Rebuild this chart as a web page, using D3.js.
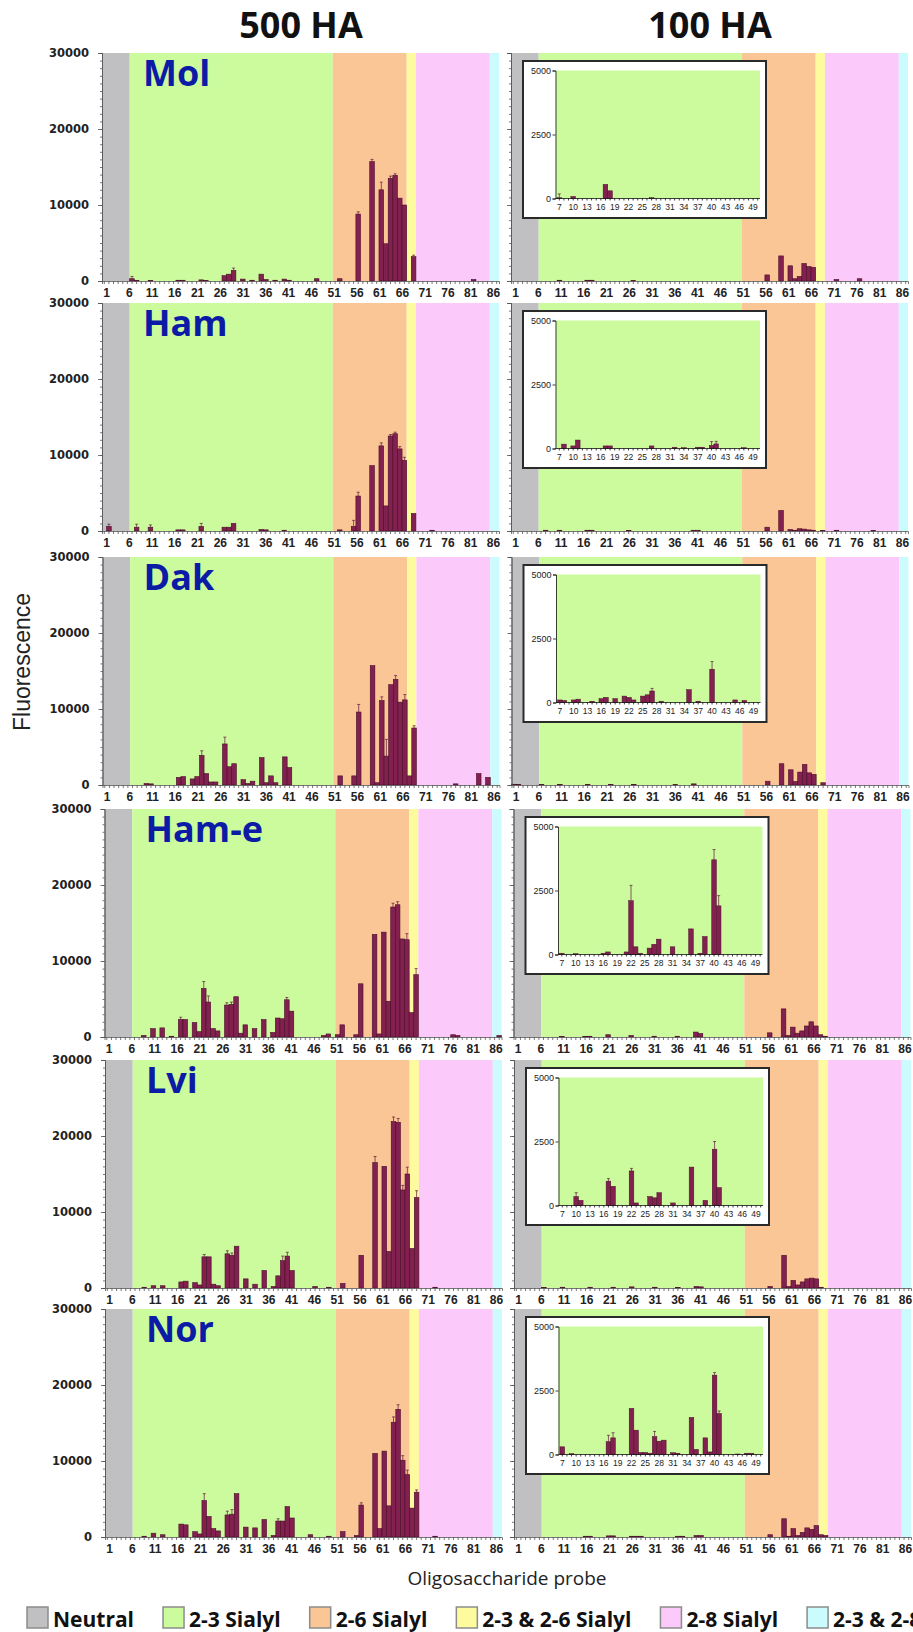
<!DOCTYPE html>
<html>
<head>
<meta charset="utf-8">
<style>
  body { margin: 0; background: #fff; }
  svg { display: block; }
  .axis path, .axis line { stroke: #555; stroke-width: 0.8; }
  .inset .axis path, .inset .axis line { stroke: #111; }
</style>
</head>
<body>
<svg width="913" height="1632"></svg>
<script src="https://d3js.org/d3.v7.min.js"></script>
<script>

var probes = d3.range(1, 87);
var insetProbes = d3.range(7, 51);
var xLabels = d3.range(1, 87, 5);
var insetLabels = d3.range(7, 50, 3);

var strains = ["Mol", "Ham", "Dak", "Ham-e", "Lvi", "Nor"];
var doses = ["500 HA", "100 HA"];

var groupNames = ["Neutral", "2-3 Sialyl", "2-6 Sialyl", "2-3 & 2-6 Sialyl", "2-8 Sialyl", "2-3 & 2-8 Sialyl"];
var groupFirst = [1, 7, 51, 67, 69, 85];
var groupLast = [6, 50, 66, 68, 84, 86];
var groupColor = ["#c0c0c2", "#cbfb9c", "#fbc695", "#fdfb9e", "#fcc9fb", "#cbfbfc"];

// probes 1-86
var mol500 = [
  0, 0, 0, 0, 0, 0, 300, 50, 0, 0,
  50, 0, 0, 0, 0, 0, 100, 100, 0, 0,
  0, 150, 50, 0, 0, 0, 700, 900, 1400, 0,
  250, 0, 100, 0, 900, 200, 0, 100, 0, 250,
  100, 0, 0, 0, 0, 0, 300, 0, 0, 0,
  0, 300, 0, 0, 0, 8800, 0, 0, 15700, 0,
  12000, 4900, 13500, 13900, 10900, 10000, 0, 3200, 0, 0,
  0, 0, 0, 0, 0, 0, 0, 0, 0, 0,
  200, 0, 0, 0, 0, 0
];
var mol100 = [
  0, 0, 0, 0, 0, 0, 0, 0, 0, 0,
  100, 0, 0, 0, 0, 0, 100, 100, 0, 0,
  0, 0, 0, 0, 0, 0, 50, 0, 0, 0,
  0, 0, 0, 0, 0, 0, 0, 0, 0, 0,
  0, 0, 0, 0, 0, 0, 0, 0, 0, 0,
  0, 0, 0, 0, 0, 800, 0, 0, 3300, 0,
  2000, 300, 600, 2300, 1900, 1800, 0, 0, 0, 0,
  200, 0, 0, 0, 0, 300, 0, 0, 0, 0,
  0, 0, 0, 0, 0, 0
];
var ham500 = [
  0, 600, 0, 0, 0, 0, 0, 500, 0, 0,
  500, 0, 0, 0, 0, 0, 150, 150, 0, 0,
  0, 600, 0, 0, 0, 0, 500, 500, 1000, 0,
  0, 0, 0, 0, 200, 150, 0, 0, 0, 100,
  0, 0, 0, 0, 0, 0, 0, 0, 0, 0,
  0, 150, 0, 0, 600, 4600, 0, 0, 8600, 0,
  11200, 3300, 12500, 12800, 10800, 9300, 0, 2300, 0, 0,
  0, 100, 0, 0, 0, 0, 0, 0, 0, 0,
  0, 0, 0, 0, 0, 0
];
var ham100 = [
  0, 0, 0, 0, 0, 0, 0, 100, 0, 0,
  100, 0, 0, 0, 0, 0, 100, 100, 0, 0,
  0, 0, 0, 0, 0, 80, 0, 0, 0, 0,
  0, 0, 0, 0, 0, 0, 0, 0, 0, 100,
  100, 0, 0, 0, 0, 0, 0, 0, 0, 0,
  0, 0, 0, 0, 0, 500, 0, 0, 2700, 0,
  200, 100, 300, 250, 150, 100, 0, 80, 0, 0,
  100, 0, 0, 0, 0, 0, 0, 0, 80, 0,
  0, 0, 0, 0, 0, 0
];
var dak500 = [
  0, 0, 0, 0, 0, 0, 0, 0, 0, 200,
  150, 0, 0, 0, 0, 0, 1000, 1100, 0, 800,
  1100, 3900, 1500, 400, 400, 0, 5400, 2400, 2800, 0,
  700, 200, 500, 0, 3600, 300, 1200, 300, 0, 3700,
  2300, 0, 0, 0, 0, 0, 0, 0, 0, 0,
  0, 1200, 0, 0, 1200, 9600, 0, 0, 15700, 300,
  11100, 3800, 13200, 13900, 10900, 11200, 1200, 7500, 0, 0,
  0, 0, 0, 0, 0, 0, 150, 0, 0, 0,
  0, 1500, 0, 1000, 0, 0
];
var dak100 = [
  100, 50, 0, 0, 0, 0, 50, 0, 0, 0,
  50, 0, 0, 0, 0, 0, 80, 0, 0, 0,
  0, 80, 0, 0, 0, 0, 80, 0, 0, 0,
  0, 0, 0, 0, 0, 50, 0, 0, 0, 150,
  0, 0, 0, 0, 0, 0, 0, 0, 0, 0,
  0, 0, 0, 0, 0, 500, 0, 0, 2800, 0,
  2000, 450, 1700, 2700, 1600, 1400, 0, 300, 0, 0,
  0, 0, 0, 0, 0, 0, 0, 0, 0, 0,
  0, 0, 0, 0, 0, 0
];
var hame500 = [
  0, 0, 0, 0, 0, 0, 0, 0, 200, 0,
  1100, 0, 1200, 0, 100, 0, 2300, 2300, 0, 1900,
  700, 6400, 4600, 1100, 800, 0, 4200, 4300, 5300, 500,
  1600, 0, 1100, 0, 2300, 0, 600, 2500, 2400, 4900,
  3400, 0, 0, 0, 0, 0, 0, 200, 400, 0,
  300, 1600, 0, 0, 300, 7000, 0, 0, 13500, 400,
  13800, 4700, 17100, 17400, 12900, 12800, 3200, 8200, 0, 0,
  0, 0, 0, 0, 0, 300, 200, 0, 0, 0,
  0, 0, 0, 0, 0, 200
];
var hame100 = [
  0, 0, 0, 0, 0, 0, 0, 0, 0, 0,
  50, 0, 0, 0, 0, 80, 80, 0, 0, 0,
  300, 0, 0, 0, 0, 200, 0, 0, 0, 0,
  100, 0, 0, 0, 0, 100, 0, 0, 0, 650,
  450, 0, 0, 0, 0, 0, 0, 0, 0, 0,
  0, 0, 0, 0, 0, 550, 0, 0, 3700, 200,
  1300, 500, 800, 1450, 2000, 1450, 300, 100, 0, 0,
  0, 0, 0, 0, 0, 0, 0, 0, 0, 0,
  0, 0, 0, 0, 0, 0
];
var lvi500 = [
  0, 0, 0, 0, 0, 0, 0, 0, 100, 0,
  300, 0, 300, 0, 0, 0, 800, 900, 0, 700,
  400, 4100, 4100, 500, 300, 0, 4500, 4300, 5500, 0,
  1200, 0, 500, 0, 2300, 0, 200, 1600, 3600, 4200,
  2300, 0, 0, 0, 0, 200, 0, 0, 100, 0,
  0, 600, 0, 0, 0, 4300, 0, 0, 16500, 0,
  16000, 4800, 21900, 21800, 12900, 15000, 5200, 11900, 0, 0,
  0, 100, 0, 0, 0, 0, 0, 0, 0, 0,
  0, 0, 0, 0, 0, 0
];
var lvi100 = [
  0, 0, 0, 0, 0, 0, 50, 0, 0, 0,
  100, 0, 0, 0, 0, 0, 100, 0, 0, 0,
  0, 100, 0, 0, 0, 150, 0, 0, 0, 0,
  100, 0, 0, 0, 0, 80, 0, 0, 0, 200,
  150, 0, 0, 0, 0, 0, 0, 0, 0, 0,
  0, 0, 0, 0, 0, 200, 0, 0, 4300, 200,
  1000, 400, 800, 1200, 1300, 1200, 100, 0, 0, 0,
  0, 0, 0, 0, 0, 0, 0, 0, 0, 0,
  0, 0, 0, 0, 0, 0
];
var nor500 = [
  0, 0, 0, 0, 0, 0, 0, 0, 100, 0,
  500, 0, 300, 0, 0, 0, 1700, 1600, 0, 700,
  400, 4800, 2700, 1100, 800, 0, 2900, 3000, 5700, 0,
  1300, 0, 1200, 0, 2300, 0, 200, 2100, 2100, 4000,
  2500, 0, 0, 0, 300, 0, 0, 0, 100, 0,
  0, 700, 0, 0, 200, 4200, 0, 0, 11000, 1100,
  11300, 4100, 15100, 16800, 10100, 8200, 3800, 5900, 0, 0,
  0, 100, 0, 0, 0, 0, 0, 0, 0, 0,
  0, 0, 0, 0, 0, 0
];
var nor100 = [
  0, 0, 0, 0, 0, 0, 0, 0, 0, 0,
  0, 0, 0, 0, 0, 100, 100, 0, 0, 0,
  150, 150, 0, 0, 0, 100, 100, 100, 0, 0,
  0, 0, 0, 0, 0, 100, 100, 0, 0, 200,
  200, 0, 0, 0, 0, 0, 0, 0, 0, 0,
  0, 0, 0, 0, 0, 300, 0, 0, 2400, 100,
  1100, 200, 600, 1200, 1000, 1500, 300, 200, 0, 0,
  0, 0, 0, 0, 0, 0, 0, 0, 0, 0,
  0, 0, 0, 0, 0, 0
];

// insets, probes 7-50 (100 HA, 0-5000 scale)
var molInset = [
  30, 0, 0, 80,
  0, 0, 0, 0, 0, 0, 550, 300, 0, 0,
  0, 0, 0, 0, 0, 0, 30, 0, 0, 0,
  0, 0, 0, 0, 0, 0, 0, 0, 0, 0,
  0, 0, 0, 0, 0, 0, 0, 0, 0, 0
];
var hamInset = [
  0, 170, 0, 100,
  330, 0, 0, 0, 0, 0, 100, 100, 0, 0,
  0, 0, 0, 0, 0, 0, 100, 0, 0, 0,
  0, 50, 0, 30, 0, 0, 50, 50, 0, 120,
  180, 0, 0, 0, 0, 0, 30, 0, 0, 0
];
var dakInset = [
  100, 80, 0, 100,
  130, 0, 0, 50, 0, 150, 200, 0, 150, 0,
  250, 200, 100, 0, 250, 300, 450, 0, 50, 0,
  0, 0, 0, 0, 500, 0, 50, 0, 0, 1300,
  0, 0, 0, 0, 100, 0, 80, 0, 0, 0
];
var hameInset = [
  50, 0, 0, 30,
  0, 0, 0, 0, 0, 50, 100, 0, 0, 0,
  100, 2100, 300, 50, 0, 250, 400, 600, 0, 0,
  300, 0, 0, 0, 1000, 0, 50, 700, 0, 3700,
  1900, 0, 0, 0, 0, 0, 0, 0, 0, 0
];
var lviInset = [
  0, 0, 0, 350,
  200, 0, 0, 0, 0, 0, 950, 750, 0, 0,
  0, 1350, 100, 0, 0, 350, 300, 500, 0, 0,
  100, 0, 0, 0, 1500, 0, 0, 200, 0, 2200,
  700, 0, 0, 0, 0, 0, 0, 0, 0, 0
];
var norInset = [
  300, 0, 30, 0,
  0, 0, 0, 0, 0, 0, 500, 650, 0, 0,
  0, 1800, 950, 80, 80, 50, 700, 520, 560, 0,
  70, 50, 0, 0, 1450, 200, 0, 650, 100, 3100,
  1600, 0, 0, 0, 20, 0, 50, 50, 0, 0
];

// error bars: [probe, +error]
var mol500Err = [[7, 300], [29, 300], [56, 300], [59, 300], [61, 1000], [63, 300], [64, 200], [68, 200]];
var ham500Err = [[2, 300], [8, 400], [11, 300], [22, 400], [55, 800], [56, 500], [61, 400], [63, 200], [64, 200], [65, 300], [66, 400]];
var dak500Err = [[22, 600], [27, 900], [56, 1000], [61, 500], [62, 2200], [64, 500], [66, 700], [68, 300]];
var hame500Err = [[17, 300], [22, 900], [23, 800], [27, 300], [28, 300], [40, 300], [63, 500], [64, 400], [66, 800], [68, 800]];
var lvi500Err = [[22, 300], [27, 400], [28, 300], [39, 600], [40, 500], [59, 800], [63, 600], [64, 500], [65, 600], [66, 900], [68, 900]];
var nor500Err = [[22, 900], [27, 500], [28, 600], [38, 300], [56, 300], [63, 700], [64, 600], [65, 600], [66, 600], [68, 300]];
var molInsetErr = [[7, 150]];
var hamInsetErr = [[40, 150], [41, 100]];
var dakInsetErr = [[40, 300], [27, 100]];
var hameInsetErr = [[22, 600], [40, 400], [41, 400]];
var lviInsetErr = [[10, 150], [17, 100], [22, 100], [40, 300]];
var norInsetErr = [[17, 250], [18, 200], [27, 200], [40, 100], [41, 100]];

var panels = [
  [mol500, mol100, molInset, mol500Err, molInsetErr],
  [ham500, ham100, hamInset, ham500Err, hamInsetErr],
  [dak500, dak100, dakInset, dak500Err, dakInsetErr],
  [hame500, hame100, hameInset, hame500Err, hameInsetErr],
  [lvi500, lvi100, lviInset, lvi500Err, lviInsetErr],
  [nor500, nor100, norInset, nor500Err, norInsetErr]
];

var svg = d3.select("svg");

var colX = [102, 511],
    panelW = 397,
    panelH = 228,
    rowTop = [53, 303, 557, 809, 1060, 1309],
    rowShift = [0, 0, 0.5, 2.5, 3, 3],
    barFill = "#82214f",
    barStroke = "#4a0c2a";

function drawErrors(g, x, y, values, errs, offset) {
  var cap = 1.5;
  g.append("g").selectAll("path")
    .data(errs)
    .enter().append("path")
      .attr("d", function(d) {
        var cx = x(d[0]) + x.bandwidth() / 2,
            y0 = y(values[d[0] - offset]),
            y1 = y(values[d[0] - offset] + d[1]);
        return "M" + cx + "," + y0 + "V" + y1 + "M" + (cx - cap) + "," + y1 + "H" + (cx + cap);
      })
      .attr("fill", "none")
      .attr("stroke", "#5e1838")
      .attr("stroke-width", 0.7);
}

function drawPanel(g, x0, top, values, errs, withLabels) {
  var x = d3.scaleBand().domain(probes).range([x0, x0 + panelW]),
      xl = d3.scalePoint().domain(probes).range([x0 + 4, x0 + 391]),
      y = d3.scaleLinear().domain([0, 30000]).range([top + panelH, top]);

  g.append("g").selectAll("rect")
    .data(groupNames)
    .enter().append("rect")
      .attr("x", function(d, i) { return x(groupFirst[i]); })
      .attr("y", top)
      .attr("width", function(d, i) { return x(groupLast[i]) + x.bandwidth() - x(groupFirst[i]); })
      .attr("height", panelH)
      .attr("fill", function(d, i) { return groupColor[i]; });

  g.append("g").selectAll("rect")
    .data(probes.filter(function(p) { return values[p - 1] > 0; }))
    .enter().append("rect")
      .attr("x", function(p) { return x(p); })
      .attr("y", function(p) { return y(values[p - 1]); })
      .attr("width", x.bandwidth())
      .attr("height", function(p) { return y(0) - y(values[p - 1]); })
      .attr("fill", barFill)
      .attr("stroke", barStroke)
      .attr("stroke-width", 0.6);

  if (errs) drawErrors(g, x, y, values, errs, 1);

  g.append("g").attr("class", "axis")
      .attr("transform", "translate(" + x0 + ",0)")
      .call(d3.axisLeft(y).ticks(30).tickSize(2).tickFormat(""));

  var yAxis = g.append("g").attr("class", "axis")
      .attr("transform", "translate(" + x0 + ",0)")
      .call(d3.axisLeft(y).tickValues([0, 10000, 20000, 30000]).tickSize(4).tickPadding(9)
        .tickFormat(withLabels ? d3.format("d") : ""));
  yAxis.attr("font-family", "DejaVu Sans").attr("font-size", 11.5).attr("font-weight", "bold");
  yAxis.selectAll("text").attr("fill", "#222");

  g.append("g").attr("class", "axis")
      .attr("transform", "translate(0," + y(0) + ")")
      .call(d3.axisBottom(x).tickValues(probes).tickSize(3).tickFormat(""));

  var xAxis = g.append("g").attr("class", "axis")
      .attr("transform", "translate(0," + y(0) + ")")
      .call(d3.axisBottom(xl).tickValues(xLabels).tickSize(0).tickPadding(7));
  xAxis.select(".domain").remove();
  xAxis.attr("font-family", "Liberation Sans").attr("font-size", 12).attr("font-weight", "bold");
  xAxis.selectAll("text").attr("fill", "#222");
}

function drawInset(g, x0, top, values, errs) {
  var ix = d3.scaleBand().domain(insetProbes).range([x0 + 46, x0 + 249]),
      iy = d3.scaleLinear().domain([0, 5000]).range([top + 145.5, top + 17.5]);

  var inset = g.append("g").attr("class", "inset");

  inset.append("rect")
      .attr("x", x0 + 12)
      .attr("y", top + 8)
      .attr("width", 243)
      .attr("height", 157)
      .attr("fill", "#fff")
      .attr("stroke", "#2a2a2a")
      .attr("stroke-width", 2);

  inset.append("rect")
      .attr("x", x0 + 44.5)
      .attr("y", iy(5000))
      .attr("width", ix.range()[1] - x0 - 44.5)
      .attr("height", iy(0) - iy(5000))
      .attr("fill", groupColor[1]);

  inset.append("g").selectAll("rect")
    .data(insetProbes.filter(function(p) { return values[p - 7] > 0; }))
    .enter().append("rect")
      .attr("x", function(p) { return ix(p); })
      .attr("y", function(p) { return iy(values[p - 7]); })
      .attr("width", ix.bandwidth())
      .attr("height", function(p) { return iy(0) - iy(values[p - 7]); })
      .attr("fill", barFill)
      .attr("stroke", barStroke)
      .attr("stroke-width", 0.5);

  drawErrors(inset, ix, iy, values, errs, 7);

  var ya = inset.append("g").attr("class", "axis")
      .attr("transform", "translate(" + (x0 + 44.5) + ",0)")
      .call(d3.axisLeft(iy).tickValues([0, 2500, 5000]).tickSize(3).tickPadding(1.5)
        .tickFormat(d3.format("d")));
  ya.attr("font-family", "Liberation Sans").attr("font-size", 9);
  ya.selectAll("text").attr("fill", "#222");

  inset.append("g").attr("class", "axis")
      .attr("transform", "translate(0," + iy(0) + ")")
      .call(d3.axisBottom(ix).tickValues(insetProbes).tickSize(2).tickFormat(""))
    .select(".domain")
      .attr("d", "M" + (x0 + 44.5) + ",0H" + ix.range()[1]);

  var xa = inset.append("g").attr("class", "axis")
      .attr("transform", "translate(0," + iy(0) + ")")
      .call(d3.axisBottom(ix).tickValues(insetLabels).tickSize(0).tickPadding(5));
  xa.select(".domain").remove();
  xa.attr("font-family", "Liberation Sans").attr("font-size", 8.5);
  xa.selectAll("text").attr("fill", "#222");
}

svg.selectAll("text.dose")
  .data(doses)
  .enter().append("text")
    .attr("class", "dose")
    .attr("x", function(d, i) { return colX[i] + 199; })
    .attr("y", 38)
    .attr("text-anchor", "middle")
    .attr("font-family", "Open Sans")
    .attr("font-weight", "bold")
    .attr("font-size", 36)
    .attr("fill", "#111")
    .text(function(d) { return d; });

strains.forEach(function(name, r) {
  var top = rowTop[r],
      dx = rowShift[r],
      row = svg.append("g");

  drawPanel(row, colX[0] + dx, top, panels[r][0], panels[r][3], true);
  drawPanel(row, colX[1] + dx, top, panels[r][1], null, false);
  drawInset(row, colX[1] + dx, top, panels[r][2], panels[r][4]);

  row.append("text")
      .attr("x", colX[0] + dx + 41)
      .attr("y", top + 33)
      .attr("font-family", "Open Sans")
      .attr("font-weight", "bold")
      .attr("font-size", 36)
      .attr("fill", "#0b1ba6")
      .text(name);
});

svg.append("text")
    .attr("transform", "translate(30,662) rotate(-90)")
    .attr("text-anchor", "middle")
    .attr("font-family", "Liberation Sans")
    .attr("font-size", 23)
    .attr("fill", "#222")
    .text("Fluorescence");

svg.append("text")
    .attr("x", 507)
    .attr("y", 1585)
    .attr("text-anchor", "middle")
    .attr("font-family", "Open Sans")
    .attr("font-size", 19)
    .attr("fill", "#222")
    .text("Oligosaccharide probe");

// legend flows left to right, runs off the right edge like the original
var legend = svg.append("g").attr("transform", "translate(0,1607)");
var lx = 27;
groupNames.forEach(function(name, i) {
  legend.append("rect")
      .attr("x", lx)
      .attr("y", 0)
      .attr("width", 21)
      .attr("height", 21)
      .attr("fill", groupColor[i])
      .attr("stroke", "#8c8c8c")
      .attr("stroke-width", 1.5);
  var t = legend.append("text")
      .attr("x", lx + 26)
      .attr("y", 20)
      .attr("font-family", "Open Sans")
      .attr("font-weight", "bold")
      .attr("font-size", 21)
      .attr("fill", "#111")
      .text(name);
  lx += 26 + t.node().getComputedTextLength() + 29;
});

</script>
</body>
</html>
